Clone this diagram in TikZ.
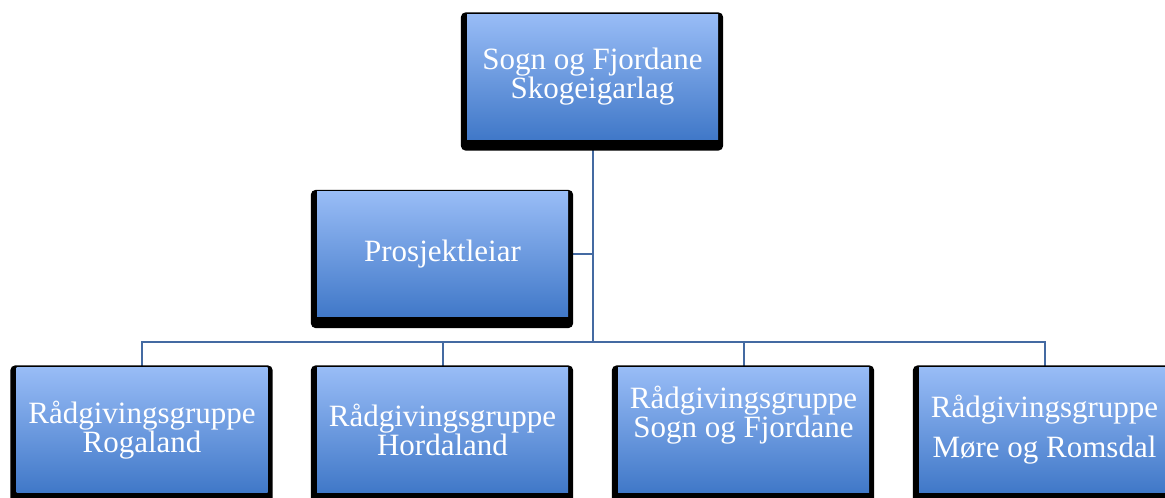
\documentclass[tikz,border=0pt]{standalone}
\usepackage{fontspec}
\setmainfont{Liberation Serif}
\usetikzlibrary{backgrounds}
\definecolor{boxtop}{RGB}{152,188,246}
\definecolor{boxbot}{RGB}{64,120,200}
\definecolor{linkblue}{RGB}{68,106,162}
\tikzset{
  unit/.style={rectangle, minimum width=251pt, minimum height=125pt, inner sep=0pt,
    top color=boxtop, bottom color=boxbot, text=white, align=center,
    font=\fontsize{31}{29}\selectfont},
  link/.style={draw=linkblue, line width=2pt},
  backing/.style={fill=black, rounded corners=5pt}
}
\begin{document}
\begin{tikzpicture}[x=1pt,y=1pt]
 \useasboundingbox (0,0) rectangle (1165,498);
 \node[unit] (lag) at (592.5,421) {Sogn og Fjordane\\Skogeigarlag};
 \node[unit] (leiar) at (442.5,243.5) {Prosjektleiar};
 \node[unit] (rogaland) at (142,68) {Rådgivingsgruppe\\Rogaland};
 \node[unit] (hordaland) at (442.5,68) {Rådgivingsgruppe\\Hordaland};
 \node[unit, text depth=36pt] (sogn) at (743.5,68) {Rådgivingsgruppe\\Sogn og Fjordane};
 \node[unit] (more) at (1044.5,68) {Rådgivingsgruppe\\[11pt]Møre og Romsdal};
 \coordinate (bus) at (592.5,156);
 \begin{scope}[on background layer]
  \draw[link] (lag) -- (bus);
  \draw[link] (leiar.east) -- (leiar.east -| lag);
  \draw[link] (rogaland) |- (bus) -| (more);
  \draw[link] (hordaland) -- (hordaland |- bus);
  \draw[link] (sogn) -- (sogn |- bus);
  \foreach \n in {lag,leiar,rogaland,hordaland,sogn,more}
   \fill[backing] ([xshift=-6pt,yshift=-11pt]\n.south west) rectangle ([xshift=5pt,yshift=2pt]\n.north east);
 \end{scope}
\end{tikzpicture}
\end{document}
